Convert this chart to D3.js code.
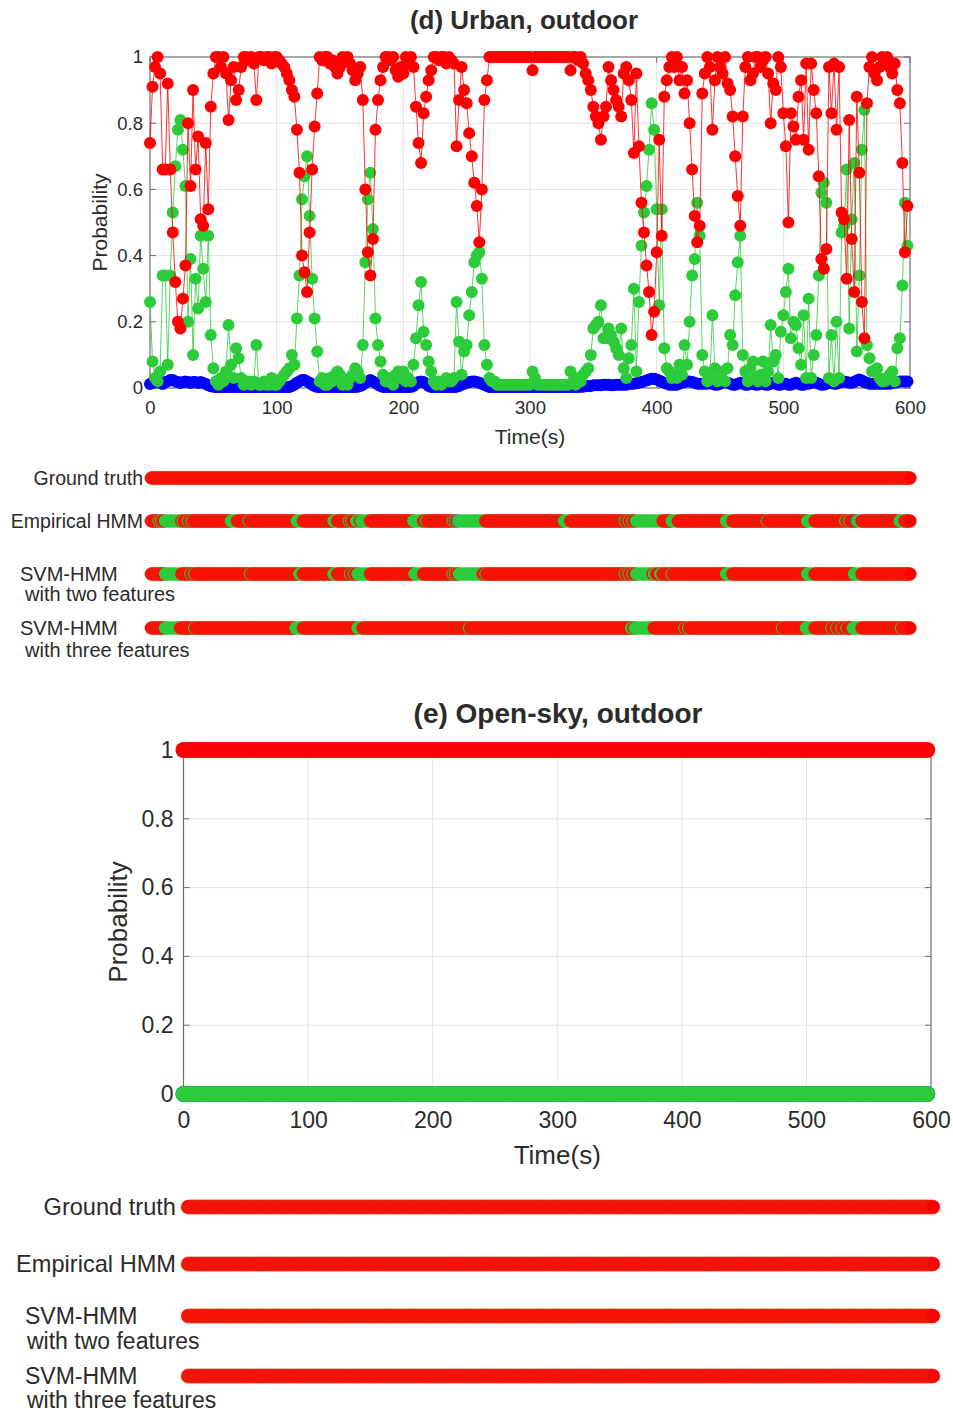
<!DOCTYPE html>
<html>
<head>
<meta charset="utf-8">
<script src="https://cdn.jsdelivr.net/npm/d3@7"></script>
<style>
  body { margin: 0; background: #fff; }
  svg { display: block; }
  text { font-family: "Liberation Sans", Arial, Helvetica, sans-serif; fill: #2b2b2b; }
</style>
</head>
<body>
<svg id="chart" width="953" height="1412"></svg>
<script>
// ---- data -------------------------------------------------------------
// (d) Urban, outdoor: class probabilities sampled every 2 s (t = 0, 2, ... 598)
const urbanStep = 2;
const urbanRed = [
  .74,.91,.97,1,.95,.66,.66,.92,.66,.47,.32,.20,.18,.27,.37,.80,.61,.90,.66,.76,
  .51,.49,.74,.54,.85,.95,1,1,.97,1,.95,.81,.93,.97,.87,.90,.97,1,1,.99,
  1,.98,.87,1,1,.99,1,1,.98,1,1,.99,.98,.97,.95,.93,.90,.88,.78,.65,
  .40,.35,.29,.47,.66,.79,.89,1,.99,1,1,.98,.99,.97,.95,.97,1,.99,1,.98,
  .96,.93,.95,.97,.87,.60,.41,.34,.45,.78,.87,.93,.97,1,1,.99,1,.96,.94,.97,
  .95,1,.98,1,.97,.85,.74,.68,.83,.88,.93,.96,1,1,.99,1,1,.98,1,.99,
  .98,.73,.87,.97,.90,.86,.77,.70,.62,.55,.44,.60,.87,.93,1,1,1,1,1,1,
  1,1,1,1,1,1,1,1,1,1,1,.96,1,1,1,1,1,1,1,1,
  1,1,1,1,1,1,.96,1,1,.99,1,.98,.95,.93,.90,.85,.82,.80,.75,.82,
  .85,.97,.93,.90,.87,.85,.82,.95,.97,.93,.87,.71,.95,.73,.56,.47,.37,.29,.16,.23,
  .41,.75,.46,.88,.93,.97,1,.97,1,.93,.97,.89,.93,.80,.66,.52,.44,.49,.89,.95,
  1,.97,.78,.93,1,.97,.95,1,.92,.90,.82,.70,.58,.49,.82,.97,1,.93,.95,1,
  1,.97,.99,1,.95,.80,.92,.90,1,.97,.83,.73,.50,.83,.79,.75,.88,.93,.75,.98,
  .72,.98,.90,.83,.64,.39,.36,.42,.97,.83,.98,.78,.97,.53,.51,.33,.81,.45,.29,.88,
  .65,.26,.15,.86,.97,1,.95,.93,.97,1,.99,1,.97,.95,.98,.90,.86,.68,.41,.55
];
const urbanGreen = [
  .26,.08,.03,.02,.05,.34,.34,.07,.34,.53,.67,.78,.81,.72,.61,.20,.39,.10,.33,.24,
  .46,.36,.26,.46,.16,.06,.02,.01,.03,.02,.05,.19,.07,.03,.12,.09,.03,.01,.02,.02,
  .01,.02,.13,.01,.01,.02,.01,.01,.03,.01,.01,.02,.03,.04,.05,.06,.10,.07,.21,.34,
  .57,.64,.70,.52,.33,.21,.11,.02,.03,.01,.01,.03,.02,.04,.05,.04,.01,.02,.01,.03,
  .04,.06,.05,.03,.13,.38,.57,.65,.48,.21,.13,.08,.04,.02,.02,.03,.01,.04,.05,.03,
  .05,.02,.03,.02,.07,.15,.25,.32,.17,.13,.08,.05,.02,.01,.02,.01,.02,.03,.02,.02,
  .03,.26,.14,.04,.11,.13,.22,.29,.38,.40,.41,.33,.13,.07,.03,.02,.02,.01,.01,.01,
  .01,.01,.01,.01,.01,.01,.01,.01,.01,.01,.01,.05,.03,.01,.01,.01,.01,.01,.01,.01,
  .01,.01,.01,.01,.01,.01,.05,.02,.01,.03,.02,.04,.05,.06,.10,.18,.19,.20,.25,.15,
  .15,.18,.16,.14,.12,.10,.18,.06,.03,.09,.13,.30,.05,.26,.43,.53,.61,.72,.86,.78,
  .54,.25,.54,.12,.06,.05,.03,.04,.03,.07,.04,.13,.07,.20,.34,.39,.56,.46,.10,.05,
  .02,.03,.22,.06,.02,.03,.05,.02,.06,.16,.13,.28,.38,.46,.10,.05,.02,.06,.08,.03,
  .02,.04,.08,.02,.05,.19,.08,.10,.03,.17,.22,.29,.36,.15,.20,.19,.12,.07,.22,.03,
  .27,.03,.10,.16,.34,.59,.62,.56,.03,.16,.02,.20,.03,.47,.49,.66,.18,.51,.68,.11,
  .34,.72,.84,.13,.09,.05,.05,.06,.03,.02,.02,.03,.04,.05,.02,.12,.15,.31,.56,.43
];
const urbanBlue = [
  .012,.015,.018,.018,.015,.012,.018,.02,.024,.024,.02,.018,.015,.018,.02,.018,.015,.018,.018,.015,
  .018,.015,.012,.008,.005,.004,.003,.003,.003,.003,.003,.003,.003,.003,.003,.003,.003,.003,.003,.003,
  .003,.003,.003,.003,.003,.003,.003,.003,.003,.003,.003,.003,.003,.003,.003,.003,.006,.01,.016,.02,
  .024,.024,.02,.016,.01,.006,.003,.003,.003,.003,.003,.003,.003,.003,.003,.003,.003,.003,.003,.003,
  .003,.003,.004,.006,.01,.016,.02,.024,.02,.016,.01,.006,.003,.003,.003,.003,.003,.003,.003,.003,
  .003,.003,.003,.003,.006,.013,.018,.02,.018,.013,.006,.003,.003,.003,.003,.003,.003,.003,.003,.003,
  .003,.004,.006,.01,.013,.016,.018,.02,.02,.018,.016,.013,.01,.006,.003,.003,.003,.003,.003,.003,
  .003,.003,.003,.003,.003,.003,.003,.003,.003,.003,.003,.003,.003,.003,.003,.003,.003,.003,.003,.003,
  .003,.003,.003,.003,.003,.003,.003,.003,.003,.003,.004,.004,.006,.006,.006,.008,.008,.008,.008,.01,
  .01,.01,.008,.008,.01,.01,.01,.01,.01,.012,.013,.013,.014,.016,.018,.02,.023,.026,.028,.028,
  .026,.023,.018,.016,.013,.01,.01,.01,.01,.013,.016,.018,.02,.02,.018,.016,.013,.013,.013,.013,
  .013,.016,.013,.01,.01,.013,.016,.018,.016,.013,.01,.01,.013,.016,.013,.01,.01,.013,.013,.01,
  .01,.013,.013,.01,.01,.013,.016,.013,.01,.01,.013,.013,.01,.01,.013,.016,.013,.01,.01,.013,
  .013,.016,.018,.016,.013,.01,.01,.013,.016,.016,.013,.013,.016,.018,.02,.018,.016,.016,.018,.023,
  .026,.023,.018,.016,.013,.013,.013,.013,.013,.013,.013,.013,.013,.016,.016,.018,.02,.02,.02,.02
];

// (e) Open-sky, outdoor: class probabilities sampled every 3 s (t = 0, 3, ... 597)
const openStep = 3;
const openRed = [
  1,1,1,1,1,1,1,1,1,1, 1,1,1,1,1,1,1,1,1,1,
  1,1,1,1,1,1,1,1,1,1, 1,1,1,1,1,1,1,1,1,1,
  1,1,1,1,1,1,1,1,1,1, 1,1,1,1,1,1,1,1,1,1,
  1,1,1,1,1,1,1,1,1,1, 1,1,1,1,1,1,1,1,1,1,
  1,1,1,1,1,1,1,1,1,1, 1,1,1,1,1,1,1,1,1,1,
  1,1,1,1,1,1,1,1,1,1, 1,1,1,1,1,1,1,1,1,1,
  1,1,1,1,1,1,1,1,1,1, 1,1,1,1,1,1,1,1,1,1,
  1,1,1,1,1,1,1,1,1,1, 1,1,1,1,1,1,1,1,1,1,
  1,1,1,1,1,1,1,1,1,1, 1,1,1,1,1,1,1,1,1,1,
  1,1,1,1,1,1,1,1,1,1, 1,1,1,1,1,1,1,1,1,1
];
const openGreen = [
  0,0,0,0,0,0,0,0,0,0, 0,0,0,0,0,0,0,0,0,0,
  0,0,0,0,0,0,0,0,0,0, 0,0,0,0,0,0,0,0,0,0,
  0,0,0,0,0,0,0,0,0,0, 0,0,0,0,0,0,0,0,0,0,
  0,0,0,0,0,0,0,0,0,0, 0,0,0,0,0,0,0,0,0,0,
  0,0,0,0,0,0,0,0,0,0, 0,0,0,0,0,0,0,0,0,0,
  0,0,0,0,0,0,0,0,0,0, 0,0,0,0,0,0,0,0,0,0,
  0,0,0,0,0,0,0,0,0,0, 0,0,0,0,0,0,0,0,0,0,
  0,0,0,0,0,0,0,0,0,0, 0,0,0,0,0,0,0,0,0,0,
  0,0,0,0,0,0,0,0,0,0, 0,0,0,0,0,0,0,0,0,0,
  0,0,0,0,0,0,0,0,0,0, 0,0,0,0,0,0,0,0,0,0
];
const openBlue = openGreen;

const xTicks = [0, 100, 200, 300, 400, 500, 600];
const yTicks = [0, 0.2, 0.4, 0.6, 0.8, 1];
const yTickLabels = ["0", "0.2", "0.4", "0.6", "0.8", "1"];
const rowNames = [["Ground truth"], ["Empirical HMM"], ["SVM-HMM", "with two features"], ["SVM-HMM", "with three features"]];

// Decoded state sequences (1 s resolution, t = 1..600): intervals labelled
// as the green class, single seconds labelled as the blue class; red otherwise.
const urbanGreenRuns = [
  [],
  [[7,7],[9,9],[12,23],[24,24],[26,26],[30,30],[33,33],[64,68],[78,78],[116,120],[145,147],[157,157],[159,159],[163,165],[167,173],[208,215],[218,218],[239,239],[241,241],[244,264],[327,331],[375,375],[378,378],[381,381],[384,404],[412,416],[455,459],[487,487],[519,524],[549,549],[552,552],[559,561],[592,595]],
  [[12,24],[32,32],[35,35],[79,79],[118,120],[145,147],[158,158],[161,161],[164,166],[167,173],[209,215],[239,239],[241,241],[244,262],[265,265],[375,375],[378,378],[381,381],[384,396],[398,399],[403,404],[412,412],[455,459],[519,524],[556,561]],
  [[12,23],[35,35],[115,120],[164,167],[252,252],[380,381],[383,396],[397,397],[422,422],[425,425],[499,499],[518,524],[538,538],[542,542],[546,546],[550,550],[555,561],[593,593]]
];
const urbanBluePoints = [[], [243, 558], [], []];
const openGreenRuns = [[], [], [], []];
const openBluePoints = [[], [], [], []];

// ---- drawing ----------------------------------------------------------
const COLORS = { red: "#ff0000", green: "#2ccb3a", blue: "#0000ff" };
const svg = d3.select("#chart");

function drawProbPanel(o) {
  const x = d3.scaleLinear().domain([0, 600]).range([o.left, o.right]);
  const y = d3.scaleLinear().domain([0, 1]).range([o.bottom, o.top]);
  const g = svg.append("g");

  // grid
  g.append("g").selectAll("line").data(xTicks.slice(1, -1)).join("line")
    .attr("x1", d => x(d)).attr("x2", d => x(d)).attr("y1", o.top).attr("y2", o.bottom)
    .attr("stroke", "#e4e4e4").attr("stroke-width", 1);
  g.append("g").selectAll("line").data(yTicks.slice(1, -1)).join("line")
    .attr("y1", d => y(d)).attr("y2", d => y(d)).attr("x1", o.left).attr("x2", o.right)
    .attr("stroke", "#e4e4e4").attr("stroke-width", 1);

  // box
  g.append("rect").attr("x", o.left).attr("y", o.top)
    .attr("width", o.right - o.left).attr("height", o.bottom - o.top)
    .attr("fill", "none").attr("stroke", "#6e6e6e").attr("stroke-width", 1.2);

  // inward ticks on all four sides
  const tk = 6;
  const tg = g.append("g").attr("stroke", "#6e6e6e").attr("stroke-width", 1);
  xTicks.forEach(v => {
    tg.append("line").attr("x1", x(v)).attr("x2", x(v)).attr("y1", o.bottom).attr("y2", o.bottom - tk);
    tg.append("line").attr("x1", x(v)).attr("x2", x(v)).attr("y1", o.top).attr("y2", o.top + tk);
  });
  yTicks.forEach(v => {
    tg.append("line").attr("y1", y(v)).attr("y2", y(v)).attr("x1", o.left).attr("x2", o.left + tk);
    tg.append("line").attr("y1", y(v)).attr("y2", y(v)).attr("x1", o.right).attr("x2", o.right - tk);
  });

  // tick labels via d3 axes
  const xa = g.append("g").attr("transform", `translate(0,${o.bottom})`)
    .call(d3.axisBottom(x).tickValues(xTicks).tickSize(0).tickPadding(o.xPad).tickFormat(d3.format("d")));
  const ya = g.append("g").attr("transform", `translate(${o.left},0)`)
    .call(d3.axisLeft(y).tickValues(yTicks).tickSize(0).tickPadding(o.yPad).tickFormat((d, i) => yTickLabels[i]));
  [xa, ya].forEach(a => {
    a.select(".domain").remove();
    a.selectAll("text").attr("font-size", o.tickFs)
      .style("font-family", "'Liberation Sans', Arial, sans-serif").attr("fill", "#2b2b2b");
  });

  // series: blue first, then green, red on top
  const series = [
    { vals: o.blue, c: COLORS.blue },
    { vals: o.green, c: COLORS.green },
    { vals: o.red, c: COLORS.red }
  ];
  const line = d3.line().x((d, i) => x(i * o.step)).y(d => y(d));
  series.forEach(s => {
    g.append("path").datum(s.vals).attr("d", line)
      .attr("fill", "none").attr("stroke", s.c).attr("stroke-width", o.lineW).attr("stroke-opacity", 0.8);
    g.append("g").selectAll("circle").data(s.vals).join("circle")
      .attr("cx", (d, i) => x(i * o.step)).attr("cy", d => y(d)).attr("r", o.markerR)
      .attr("fill", s.c);
  });

  // titles and axis labels
  g.append("text").attr("x", o.titleX).attr("y", o.titleY).attr("text-anchor", "middle")
    .attr("font-size", o.titleFs).attr("font-weight", "bold").attr("fill", "#1a1a1a").text(o.title);
  g.append("text").attr("x", (o.left + o.right) / 2).attr("y", o.xLabelY).attr("text-anchor", "middle")
    .attr("font-size", o.labelFs).text("Time(s)");
  g.append("text").attr("transform", `translate(${o.yLabelX},${(o.top + o.bottom) / 2}) rotate(-90)`)
    .attr("text-anchor", "middle").attr("font-size", o.labelFs).text("Probability");
}

function drawTimelines(o) {
  const x = d3.scaleLinear().domain([1, 600]).range(o.range);
  const g = svg.append("g");
  o.runs.forEach((runs, r) => {
    const state = new Array(600).fill("red");
    runs.forEach(([a, b]) => { for (let t = a; t <= b; t++) state[t - 1] = "green"; });
    o.bluePts[r].forEach(t => { state[t - 1] = "blue"; });
    const cy = o.rowsY[r];
    g.append("g").selectAll("circle").data(state).join("circle")
      .attr("cx", (d, i) => x(i + 1)).attr("cy", cy).attr("r", o.r)
      .attr("fill", d => d === "blue" ? "#1f8fb0" : COLORS[d])
      .attr("stroke", d => d === "red" ? "#e0401a" : "none").attr("stroke-width", 0.4);

    const lines = rowNames[r];
    if (lines.length === 1) {
      g.append("text").attr("x", o.labelRight).attr("y", cy + o.fs * 0.36)
        .attr("text-anchor", "end").attr("font-size", o.fs).text(lines[0]);
    } else {
      const t = g.append("text").attr("font-size", o.fs2);
      t.append("tspan").attr("x", o.twoLineX[0]).attr("y", cy + o.fs2 * 0.36).text(lines[0]);
      t.append("tspan").attr("x", o.twoLineX[1]).attr("y", cy + o.fs2 * 0.36 + o.lineGap[r - 2]).text(lines[1]);
    }
  });
}

drawProbPanel({
  left: 150, right: 910, top: 57, bottom: 388, step: urbanStep,
  red: urbanRed, green: urbanGreen, blue: urbanBlue,
  markerR: 6, lineW: 1, tickFs: 18.5, labelFs: 21, titleFs: 26,
  xPad: 13, yPad: 7, xLabelY: 444, yLabelX: 107,
  title: "(d) Urban, outdoor", titleX: 524, titleY: 29
});
drawTimelines({
  runs: urbanGreenRuns, bluePts: urbanBluePoints,
  range: [151.3, 910], rowsY: [478, 521, 574, 628], r: 6.5,
  fs: 19.5, fs2: 20, labelRight: 143, twoLineX: [20, 25], lineGap: [20, 22]
});

drawProbPanel({
  left: 183.5, right: 931, top: 750, bottom: 1094, step: openStep,
  red: openRed, green: openGreen, blue: openBlue,
  markerR: 8, lineW: 1, tickFs: 23, labelFs: 26, titleFs: 28,
  xPad: 18, yPad: 10, xLabelY: 1164, yLabelX: 127,
  title: "(e) Open-sky, outdoor", titleX: 558, titleY: 723
});
drawTimelines({
  runs: openGreenRuns, bluePts: openBluePoints,
  range: [188, 933], rowsY: [1207, 1264, 1316, 1376], r: 7,
  fs: 23.6, fs2: 23, labelRight: 176, twoLineX: [25, 27], lineGap: [25, 24]
});
</script>
</body>
</html>
